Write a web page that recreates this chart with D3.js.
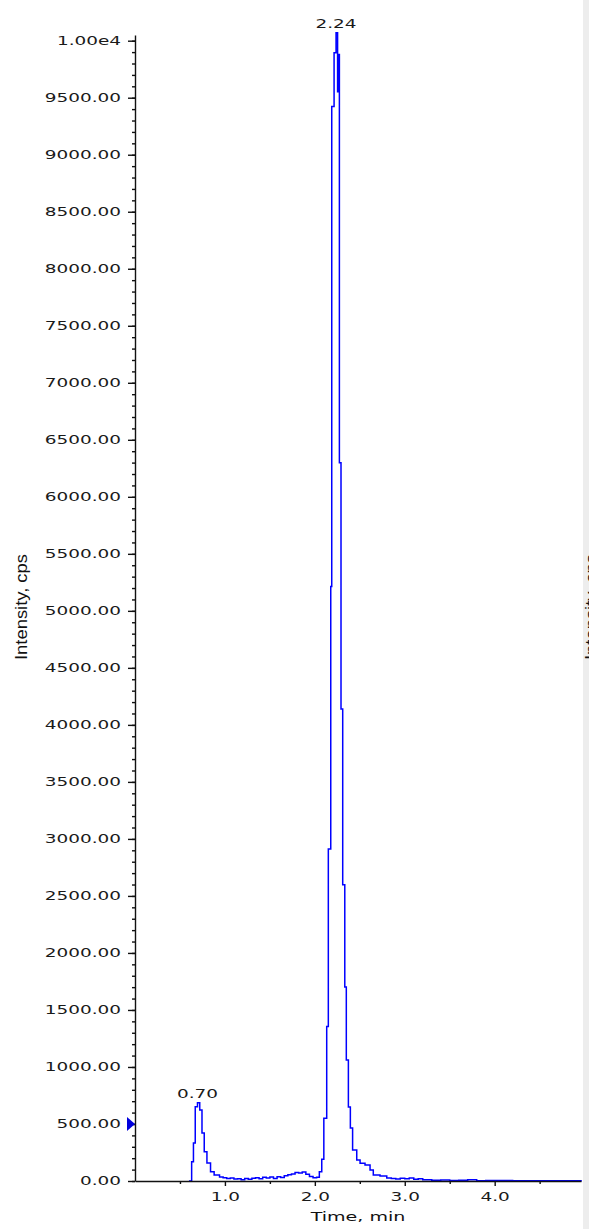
<!DOCTYPE html>
<html>
<head>
<meta charset="utf-8">
<script src="https://cdn.jsdelivr.net/npm/d3@7"></script>
<style>
  body { margin: 0; background: #fff; }
  svg { display: block; }
</style>
</head>
<body>
<svg id="chart"></svg>
<script>
const WIDTH = 589, HEIGHT = 1229;

// chromatogram trace (time in min, intensity in cps)
const times = [
  0.600, 0.630, 0.650, 0.670, 0.695, 0.720, 0.745, 0.770, 0.800, 0.840,
  0.880, 0.940, 0.980, 1.020, 1.060, 1.100, 1.140, 1.180, 1.220, 1.260,
  1.300, 1.340, 1.380, 1.420, 1.460, 1.500, 1.540, 1.580, 1.620, 1.660,
  1.700, 1.740, 1.780, 1.820, 1.860, 1.900, 1.940, 1.980, 2.020, 2.050,
  2.077, 2.100, 2.132, 2.150, 2.177, 2.188, 2.214, 2.236, 2.253, 2.264,
  2.273, 2.291, 2.310, 2.333, 2.350, 2.373, 2.395, 2.420, 2.466, 2.503,
  2.558, 2.614, 2.650, 2.725, 2.800, 2.850, 2.900, 2.950, 3.000, 3.050,
  3.100, 3.150, 3.200, 3.300, 3.400, 3.500, 3.600, 3.700, 3.800, 3.900,
  4.000, 4.200, 4.400, 4.600, 4.800, 4.960
];
const intensities = [
  0, 169, 333, 652, 687, 623, 421, 257, 158, 82,
  53, 35, 28, 22, 26, 18, 20, 12, 22, 15,
  25, 28, 20, 32, 26, 35, 22, 38, 30, 45,
  55, 62, 75, 70, 78, 60, 40, 28, 32, 82,
  190, 550, 1354, 2912, 5213, 9424, 9895, 10070, 9553, 9878,
  6298, 4140, 2597, 1702, 1061, 649, 465, 272, 184, 155,
  140, 96, 53, 44, 26, 22, 18, 24, 20, 26,
  15, 20, 10, 6, 8, 4, 6, 10, 3, 5,
  4, 2, 3, 2, 3, 8
];

// peak apex labels
const peakTimes = [0.695, 2.236];
const peakLabels = ["0.70", "2.24"];
const peakHeights = [687, 10070];

const yMajor = d3.range(0, 10001, 500);
const yMinor = d3.range(0, 10001, 100);
const xMajor = [1, 2, 3, 4];
const xMinor = [0.5, 1.5, 2.5, 3.5, 4.5];
const markerLevel = 500;

const svg = d3.select('#chart')
  .attr('width', WIDTH)
  .attr('height', HEIGHT);

svg.append('rect').attr('width', WIDTH).attr('height', HEIGHT).attr('fill', '#fff');

const x = d3.scaleLinear().domain([0, 4.96]).range([135, 581]);
const y = d3.scaleLinear().domain([0, 10050]).range([1181, 35]);

const SX = 1.5; // wide look of the labels
const fontFam = '"DejaVu Sans", Verdana, sans-serif';
const fontSize = '12.3px';

// neighbouring panel cut off at the right edge
svg.append('rect')
  .attr('x', 583).attr('y', 0)
  .attr('width', WIDTH - 583).attr('height', HEIGHT)
  .attr('fill', '#ededed');
svg.append('text')
  .attr('transform', 'translate(597,607) rotate(-90) scale(1.15,1)')
  .attr('text-anchor', 'middle')
  .style('font-family', '"Liberation Sans", Arial, sans-serif')
  .style('font-size', '16px')
  .attr('fill', '#111')
  .text('Intensity, cps');

// trace
const data = times.map((t, i) => ({ t, v: intensities[i] }));
const line = d3.line()
  .x(d => x(d.t))
  .y(d => y(d.v))
  .curve(d3.curveStepAfter);

svg.append('path')
  .datum(data)
  .attr('d', line)
  .attr('fill', 'none')
  .attr('stroke', '#0000ff')
  .attr('stroke-width', 1.5);

// y axis
const yAxisMinor = svg.append('g')
  .attr('transform', `translate(${x(0)},0)`)
  .call(d3.axisLeft(y).tickValues(yMinor).tickSize(3).tickSizeOuter(0).tickFormat(''));
yAxisMinor.select('.domain').remove();

const yAxis = svg.append('g')
  .attr('transform', `translate(${x(0)},0)`)
  .call(d3.axisLeft(y).tickValues(yMajor).tickSize(7).tickSizeOuter(0)
    .tickFormat(d => d === 10000 ? '1.00e4' : d3.format('.2f')(d)));

yAxis.selectAll('text')
  .attr('x', -14 / SX)
  .attr('transform', `scale(${SX},1)`)
  .style('font-family', fontFam)
  .style('font-size', fontSize)
  .attr('fill', '#1a1a1a');

// x axis
const xAxisMinor = svg.append('g')
  .attr('transform', `translate(0,${y(0)})`)
  .call(d3.axisBottom(x).tickValues(xMinor).tickSize(3).tickSizeOuter(0).tickFormat(''));
xAxisMinor.select('.domain').remove();

const xAxis = svg.append('g')
  .attr('transform', `translate(0,${y(0)})`)
  .call(d3.axisBottom(x).tickValues(xMajor).tickSize(5).tickSizeOuter(0)
    .tickFormat(d3.format('.1f')));

xAxis.selectAll('text')
  .attr('y', 11)
  .attr('transform', `scale(${SX},1)`)
  .style('font-family', fontFam)
  .style('font-size', fontSize)
  .attr('fill', '#1a1a1a');

[yAxis, xAxis, yAxisMinor, xAxisMinor].forEach(g => {
  g.selectAll('.domain, line').attr('stroke', '#111').attr('stroke-width', 1.4);
});

// blue level marker on the y axis
svg.append('path')
  .attr('d', `M${x(0)},${y(markerLevel)} L${x(0) - 8},${y(markerLevel) - 7} L${x(0) - 8},${y(markerLevel) + 7} Z`)
  .attr('fill', '#0000dd');

// peak labels
svg.append('g').selectAll('text')
  .data(peakLabels)
  .join('text')
    .attr('transform', (d, i) => `translate(${x(peakTimes[i])},${y(peakHeights[i]) - 5}) scale(${SX},1)`)
    .attr('text-anchor', 'middle')
    .style('font-family', fontFam)
    .style('font-size', fontSize)
    .attr('fill', '#1a1a1a')
    .text(d => d);

// axis titles
svg.append('text')
  .attr('transform', 'translate(27,607) rotate(-90) scale(1.15,1)')
  .attr('text-anchor', 'middle')
  .style('font-family', '"Liberation Sans", Arial, sans-serif')
  .style('font-size', '16px')
  .attr('fill', '#111')
  .text('Intensity, cps');

svg.append('text')
  .attr('transform', `translate(${(x.range()[0] + x.range()[1]) / 2},1221) scale(1.55,1)`)
  .attr('text-anchor', 'middle')
  .style('font-family', fontFam)
  .style('font-size', '12.3px')
  .attr('fill', '#111')
  .text('Time, min');
</script>
</body>
</html>
